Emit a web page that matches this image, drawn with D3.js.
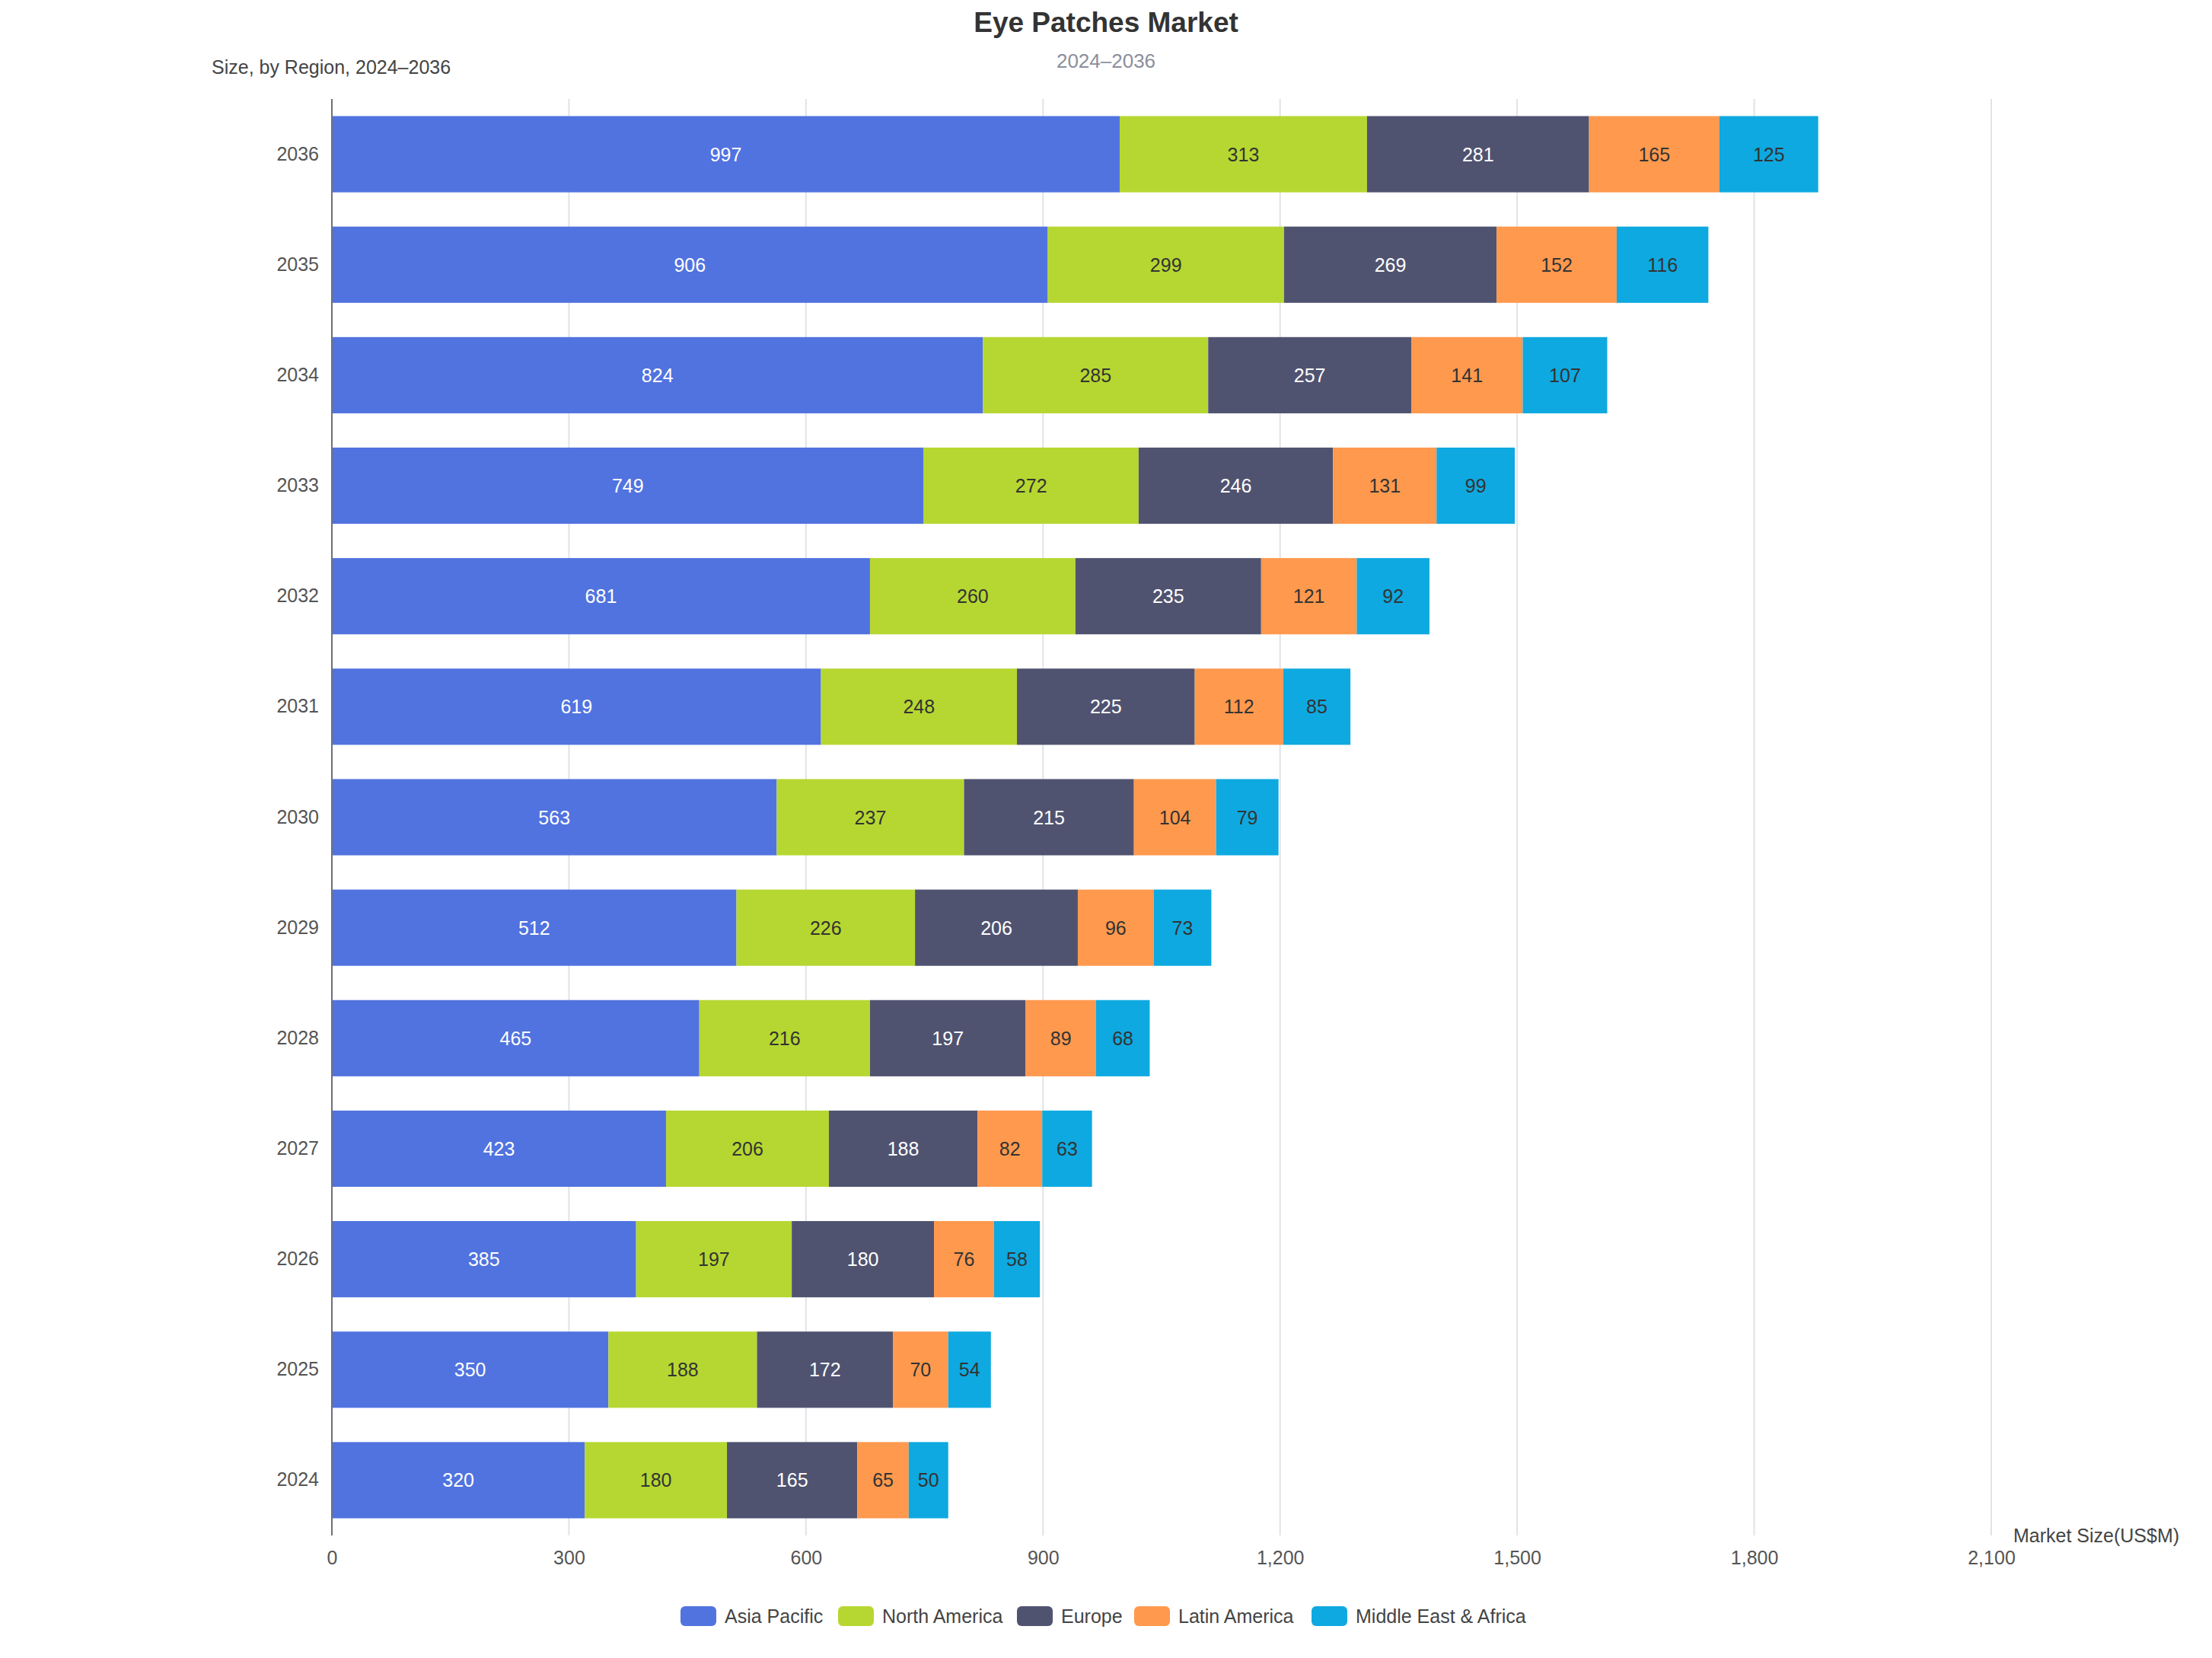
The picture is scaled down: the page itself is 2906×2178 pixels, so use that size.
<!DOCTYPE html>
<html lang="en">
<head>
    <meta charset="UTF-8">
    <title>Eye Patches Market</title>
    <script src="https://d3js.org/d3.v7.min.js"></script>
    <style>
        html, body { margin: 0; padding: 0; background: #fff; }
        body { font-family: "Liberation Sans", Arial, sans-serif; }
    </style>
</head>
<body>
    <div id="chart"></div>
    <script>
        // chart data
        const years = ["2036", "2035", "2034", "2033", "2032", "2031", "2030", "2029", "2028", "2027", "2026", "2025", "2024"];
        const regions = ["Asia Pacific", "North America", "Europe", "Latin America", "Middle East & Africa"];
        const asiaPacific = [997, 906, 824, 749, 681, 619, 563, 512, 465, 423, 385, 350, 320];
        const northAmerica = [313, 299, 285, 272, 260, 248, 237, 226, 216, 206, 197, 188, 180];
        const europe = [281, 269, 257, 246, 235, 225, 215, 206, 197, 188, 180, 172, 165];
        const latinAmerica = [165, 152, 141, 131, 121, 112, 104, 96, 89, 82, 76, 70, 65];
        const middleEastAfrica = [125, 116, 107, 99, 92, 85, 79, 73, 68, 63, 58, 54, 50];
        const xTicks = [0, 300, 600, 900, 1200, 1500, 1800, 2100];

        const colors = ["#5173DF", "#B6D731", "#505370", "#FF994E", "#0EA9E0"];
        const labelColors = ["#ffffff", "#333333", "#ffffff", "#333333", "#333333"];

        const W = 2906, H = 2178;
        const margin = {top: 130, right: 290, bottom: 161, left: 436};
        const fs = 25;

        const svg = d3.select('#chart').append('svg')
            .attr('width', W)
            .attr('height', H);

        const series = [asiaPacific, northAmerica, europe, latinAmerica, middleEastAfrica];
        const rows = years.map((y, i) => {
            const r = {year: y};
            regions.forEach((k, j) => r[k] = series[j][i]);
            return r;
        });
        const stacked = d3.stack().keys(regions)(rows);

        const x = d3.scaleLinear()
            .domain([0, 2100])
            .range([margin.left, W - margin.right]);

        const y = d3.scaleBand()
            .domain(years)
            .range([margin.top, H - margin.bottom])
            .paddingInner(0.31)
            .paddingOuter(0.155);

        // gridlines
        svg.append('g')
            .selectAll('line')
            .data(xTicks.slice(1))
            .enter().append('line')
            .attr('x1', d => x(d))
            .attr('x2', d => x(d))
            .attr('y1', margin.top)
            .attr('y2', H - margin.bottom)
            .attr('stroke', '#e0e3e8')
            .attr('stroke-width', 2);

        // bars
        const layer = svg.append('g')
            .selectAll('g')
            .data(stacked)
            .enter().append('g')
            .attr('fill', (d, i) => colors[i]);

        layer.selectAll('rect')
            .data(d => d)
            .enter().append('rect')
            .attr('x', d => x(d[0]))
            .attr('y', d => y(d.data.year))
            .attr('width', d => x(d[1]) - x(d[0]))
            .attr('height', y.bandwidth());

        // value labels
        stacked.forEach((s, i) => {
            svg.append('g')
                .selectAll('text')
                .data(s)
                .enter().append('text')
                .attr('x', d => (x(d[0]) + x(d[1])) / 2)
                .attr('y', d => y(d.data.year) + y.bandwidth() / 2)
                .attr('dy', '0.36em')
                .attr('text-anchor', 'middle')
                .attr('font-size', fs)
                .attr('fill', labelColors[i])
                .text(d => d[1] - d[0]);
        });

        // y axis
        const yAxis = svg.append('g')
            .attr('transform', `translate(${margin.left},0)`)
            .call(d3.axisLeft(y).tickSize(0).tickPadding(17));
        yAxis.select('.domain')
            .attr('stroke', '#6e7079')
            .attr('stroke-width', 2)
            .attr('d', `M0,${margin.top}V${H - margin.bottom}`);
        yAxis.selectAll('text')
            .attr('font-size', fs)
            .attr('font-family', '"Liberation Sans", Arial, sans-serif')
            .attr('fill', '#555');

        // x axis
        const xAxis = svg.append('g')
            .attr('transform', `translate(0,${H - margin.bottom})`)
            .call(d3.axisBottom(x).tickValues(xTicks).tickSize(0).tickPadding(20).tickFormat(d3.format(',')));
        xAxis.select('.domain').remove();
        xAxis.selectAll('text')
            .attr('font-size', fs)
            .attr('font-family', '"Liberation Sans", Arial, sans-serif')
            .attr('fill', '#555');

        svg.append('text')
            .attr('x', 2645)
            .attr('y', 2017)
            .attr('dy', '0.36em')
            .attr('font-size', fs)
            .attr('fill', '#444')
            .text('Market Size(US$M)');

        // titles
        svg.append('text')
            .attr('x', W / 2)
            .attr('y', 29)
            .attr('dy', '0.36em')
            .attr('text-anchor', 'middle')
            .attr('font-size', 37)
            .attr('font-weight', 'bold')
            .attr('fill', '#333')
            .text('Eye Patches Market');

        svg.append('text')
            .attr('x', W / 2)
            .attr('y', 80)
            .attr('dy', '0.36em')
            .attr('text-anchor', 'middle')
            .attr('font-size', 26)
            .attr('fill', '#8a8f9c')
            .text('2024–2036');

        svg.append('text')
            .attr('x', 278)
            .attr('y', 88)
            .attr('dy', '0.36em')
            .attr('font-size', fs)
            .attr('fill', '#444')
            .text('Size, by Region, 2024–2036');

        // legend
        const legendX = [894, 1101, 1336, 1490, 1723];
        const legend = svg.append('g')
            .selectAll('g')
            .data(regions)
            .enter().append('g')
            .attr('transform', (d, i) => `translate(${legendX[i]},2123)`);
        legend.append('rect')
            .attr('x', 0)
            .attr('y', -13)
            .attr('width', 47)
            .attr('height', 26)
            .attr('rx', 6)
            .attr('fill', (d, i) => colors[i]);
        legend.append('text')
            .attr('x', 58)
            .attr('dy', '0.36em')
            .attr('font-size', fs)
            .attr('fill', '#444')
            .text(d => d);
    </script>
</body>
</html>
